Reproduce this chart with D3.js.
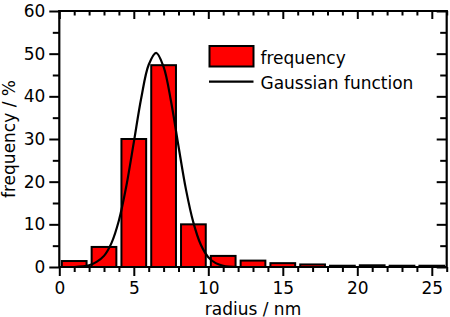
<!DOCTYPE html>
<html>
<head>
<meta charset="utf-8">
<script src="https://cdn.jsdelivr.net/npm/d3@7"></script>
<style>
  body { margin: 0; background: #fff; }
  text { font-family: "DejaVu Sans", sans-serif; font-size: 17px; fill: #000; }
</style>
</head>
<body>
<div id="chart"></div>
<script>
// --------------------------------------
//  Data
// --------------------------------------

const binCenters = [1, 3, 5, 7, 9, 11, 13, 15, 17, 19, 21, 23, 25];
const frequency = [1.4, 4.7, 30, 47.3, 10, 2.6, 1.5, 0.9, 0.6, 0.3, 0.4, 0.3, 0.3];

// points
const gaussX = [1, 2, 2.5, 3, 3.5, 4, 4.5, 5, 5.5, 6, 6.5, 7, 7.5, 8, 8.5, 9, 9.5, 10, 10.5, 11, 12];
const gaussY = [0.0, 0.4, 1.2, 2.6, 5.6, 10.9, 19.0, 29.2, 39.6, 47.4, 50.2, 46.9, 38.8, 28.3, 18.2, 10.4, 5.2, 2.3, 0.9, 0.3, 0.0];

const xMajor = [0, 5, 10, 15, 20, 25];
const yMajor = [0, 10, 20, 30, 40, 50, 60];

const width = 450, height = 317;
const margin = {left: 59.3, right: 3.3, top: 11, bottom: 50};

// --------------------------------------
//  Canvas
// --------------------------------------

const svg = d3.select("#chart")
  .append("svg")
    .attr("width", width)
    .attr("height", height);

// --------------------------------------
//  Scales
// --------------------------------------

const x = d3.scaleLinear()
  .domain([0, 26])
  .range([margin.left, width - margin.right]);

const y = d3.scaleLinear()
  .domain([0, 60])
  .range([height - margin.bottom, margin.top]);

const barHalf = 0.83;

// --------------------------------------
//  Bars and curve
// --------------------------------------

svg.append("g")
  .selectAll("rect")
  .data(binCenters)
  .join("rect")
    .attr("x", d => x(d - barHalf))
    .attr("width", d => x(d + barHalf) - x(d - barHalf))
    .attr("y", (d, i) => y(frequency[i]))
    .attr("height", (d, i) => y(0) - y(frequency[i]))
    .attr("fill", "#ff0000")
    .attr("stroke", "#000")
    .attr("stroke-width", 2);

const line = d3.line()
  .curve(d3.curveCatmullRom)
  .x(d => x(d[0]))
  .y(d => y(d[1]));

svg.append("path")
  .datum(d3.zip(gaussX, gaussY))
  .attr("fill", "none")
  .attr("stroke", "#000")
  .attr("stroke-width", 2.2)
  .attr("d", line);

// --------------------------------------
//  Axes
// --------------------------------------

const xMinor = d3.range(0, 27).filter(v => v % 5 !== 0);
const yMinorL = [5, 15, 25, 35, 45, 55];

function styleAxis(g) {
  g.selectAll("path.domain").attr("stroke-width", 2.2);
  g.selectAll("line").attr("stroke-width", 2);
  g.selectAll("text").attr("fill", "#000");
}

// bottom
svg.append("g")
  .attr("transform", `translate(0, ${y(0)})`)
  .call(d3.axisBottom(x).tickValues(xMajor).tickSize(9).tickSizeOuter(0).tickPadding(6))
  .call(g => g.select(".domain").attr("d", `M${x(0)},0H${x(26)}`))
  .call(styleAxis)
  .call(g => g.selectAll("text").style("font-size", "17px").style("font-family", "DejaVu Sans"));

svg.append("g")
  .attr("transform", `translate(0, ${y(0)})`)
  .call(d3.axisBottom(x).tickValues(xMinor).tickSize(5).tickFormat(""))
  .call(g => g.select(".domain").remove())
  .call(styleAxis);

// top (inward ticks)
svg.append("g")
  .attr("transform", `translate(0, ${y(60)})`)
  .call(d3.axisBottom(x).tickValues(xMajor).tickSize(8).tickFormat(""))
  .call(g => g.select(".domain").attr("d", `M${x(0) - 1},0H${x(26) + 1}`))
  .call(styleAxis);

svg.append("g")
  .attr("transform", `translate(0, ${y(60)})`)
  .call(d3.axisBottom(x).tickValues(xMinor).tickSize(4.5).tickFormat(""))
  .call(g => g.select(".domain").remove())
  .call(styleAxis);

// left
svg.append("g")
  .attr("transform", `translate(${x(0)}, 0)`)
  .call(d3.axisLeft(y).tickValues(yMajor).tickSize(10).tickSizeOuter(0).tickPadding(4))
  .call(g => g.select(".domain").attr("d", `M0,${y(0) + 1}V${y(60) - 1}`))
  .call(styleAxis)
  .call(g => g.selectAll("text").style("font-size", "17px").style("font-family", "DejaVu Sans"));

svg.append("g")
  .attr("transform", `translate(${x(0)}, 0)`)
  .call(d3.axisLeft(y).tickValues(yMinorL).tickSize(6.5).tickFormat(""))
  .call(g => g.select(".domain").remove())
  .call(styleAxis);

// right (inward ticks)
svg.append("g")
  .attr("transform", `translate(${x(26)}, 0)`)
  .call(d3.axisLeft(y).tickValues(yMajor).tickFormat(""))
  .call(g => g.selectAll("line").attr("x2", -10))
  .call(g => g.select(".domain").attr("d", `M0,${y(0) + 1}V${y(60) - 1}`))
  .call(styleAxis);

svg.append("g")
  .attr("transform", `translate(${x(26)}, 0)`)
  .call(d3.axisLeft(y).tickValues(yMinorL).tickFormat(""))
  .call(g => g.selectAll("line").attr("x2", -6.5))
  .call(g => g.select(".domain").remove())
  .call(styleAxis);

// --------------------------------------
//  Axis labels
// --------------------------------------

svg.append("text")
  .attr("x", (x(0) + x(26)) / 2)
  .attr("y", 314.5)
  .attr("text-anchor", "middle")
  .text("radius / nm");

svg.append("text")
  .attr("transform", `translate(15, ${(y(0) + y(60)) / 2}) rotate(-90)`)
  .attr("text-anchor", "middle")
  .text("frequency / %");

// --------------------------------------
//  Legend
// --------------------------------------

const legend = svg.append("g");

legend.append("rect")
  .attr("x", 209.5)
  .attr("y", 46)
  .attr("width", 44)
  .attr("height", 20.5)
  .attr("fill", "#ff0000")
  .attr("stroke", "#000")
  .attr("stroke-width", 2);

legend.append("text")
  .attr("x", 260.5)
  .attr("y", 64)
  .text("frequency");

legend.append("line")
  .attr("x1", 209)
  .attr("x2", 253.5)
  .attr("y1", 81.7)
  .attr("y2", 81.7)
  .attr("stroke", "#000")
  .attr("stroke-width", 2.2);

legend.append("text")
  .attr("x", 260.5)
  .attr("y", 89.3)
  .text("Gaussian function");
</script>
</body>
</html>
